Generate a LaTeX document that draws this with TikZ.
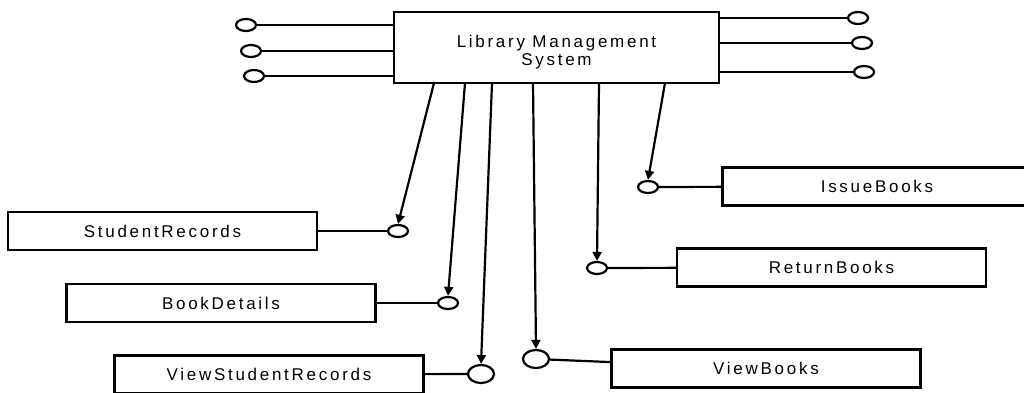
\documentclass[tikz,border=0pt]{standalone}
\usepackage{fontspec}
\setmainfont{Liberation Sans}[LetterSpace=16]
\usetikzlibrary{positioning,arrows.meta,shapes.geometric}

\begin{document}
\begin{tikzpicture}[x=1pt,y=-1pt,
    box/.style={draw,line width=2.2pt,minimum width=309pt,minimum height=38pt,inner sep=0pt,
      font=\fontsize{17}{18}\selectfont},
    port/.style={draw,ellipse,line width=2.2pt,minimum width=20pt,minimum height=12pt,inner sep=0pt},
    bigport/.style={port,minimum width=26pt,minimum height=18pt},
    wire/.style={line width=2.2pt},
    flow/.style={wire,-{Triangle[length=9pt,width=9pt]}}]

\useasboundingbox (0,0) rectangle (1024,393);

\node[box,minimum width=325pt,minimum height=71pt,align=center,text height=40pt] (lms) at (556.5,47.5) {Library Management\\System};

\node[port] (in1) at (246,25) {};
\node[port] (in2) at (251,51) {};
\node[port] (in3) at (254,76) {};
\node[port] (out1) at (858,18) {};
\node[port] (out2) at (862,43) {};
\node[port] (out3) at (864,72) {};
\draw[wire] (in1) -- (in1 -| lms.west);
\draw[wire] (in2) -- (in2 -| lms.west);
\draw[wire] (in3) -- (in3 -| lms.west);
\draw[wire] (out1) -- (out1 -| lms.east);
\draw[wire] (out2) -- (out2 -| lms.east);
\draw[wire] (out3) -- (out3 -| lms.east);

\node[box] (student) at (162.5,231) {StudentRecords};
\node[box] (book) at (221,303) {BookDetails};
\node[box] (viewstudent) at (269,374.5) {ViewStudentRecords};
\node[box] (issue) at (877,186.5) {IssueBooks};
\node[box] (return) at (831.5,267.5) {ReturnBooks};
\node[box] (viewbook) at (766,368.5) {ViewBooks};

\node[port] (pstudent) at (398,231) {};
\node[port] (pbook) at (448,303) {};
\node[bigport] (pviewstudent) at (481,374) {};
\node[port] (pissue) at (648,187) {};
\node[port] (preturn) at (597,268) {};
\node[bigport] (pviewbook) at (536,359) {};

\draw[wire] (student) -- (pstudent);
\draw[wire] (book) -- (pbook);
\draw[wire] (viewstudent) -- (pviewstudent);
\draw[wire] (issue) -- (pissue);
\draw[wire] (return) -- (preturn);
\draw[wire] (viewbook) -- (pviewbook);

\coordinate (s1) at (434,83);
\coordinate (s2) at (465,83);
\coordinate (s3) at (492,83);
\coordinate (s4) at (533,83);
\coordinate (s5) at (599,83);
\coordinate (s6) at (665,83);
\draw[flow] (s1) -- (pstudent.north);
\draw[flow] (s2) -- (pbook.north);
\draw[flow] (s3) -- (pviewstudent.north);
\draw[flow] (s4) -- (pviewbook.north);
\draw[flow] (s5) -- (preturn.north);
\draw[flow] (s6) -- (pissue.north);
\end{tikzpicture}
\end{document}
